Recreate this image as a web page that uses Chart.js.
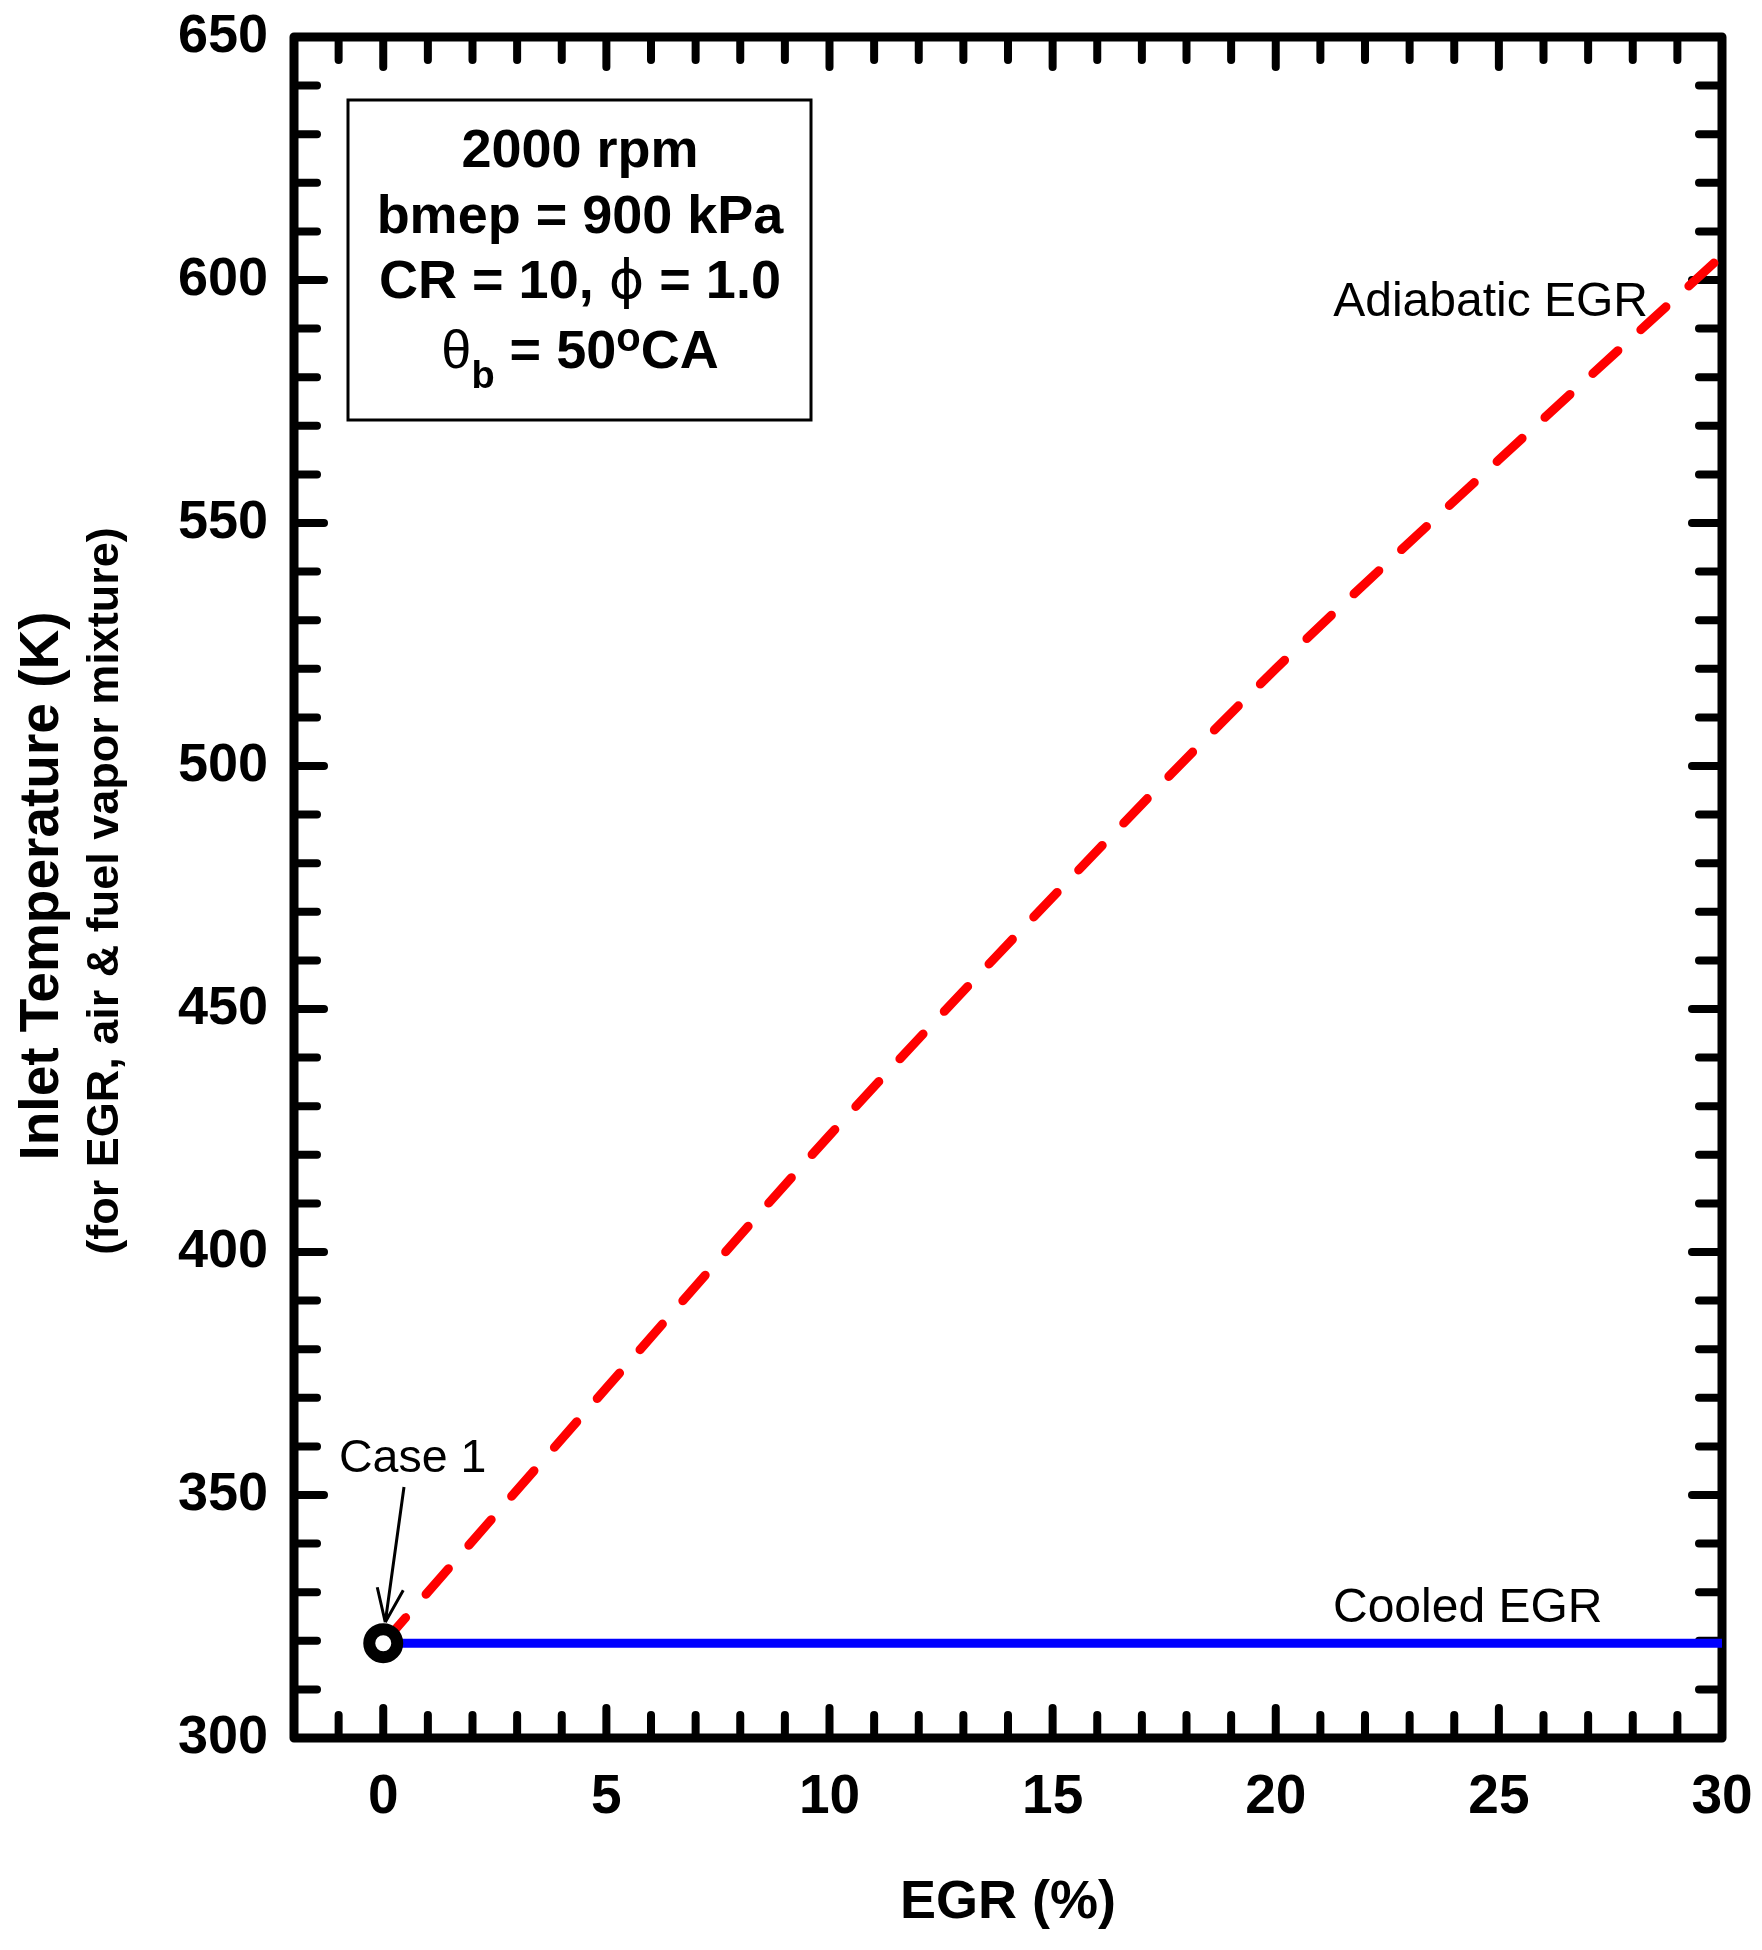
<!DOCTYPE html>
<html><head><meta charset="utf-8">
<script src="https://cdn.jsdelivr.net/npm/chart.js@4.4.0/dist/chart.umd.min.js"></script>
<style>html,body{margin:0;padding:0;background:#fff;}canvas{display:block;}</style>
</head><body>
<canvas id="c" width="1762" height="1950" style="width:1762px;height:1950px"></canvas>
<script>
// ---- data ----
const egr = [0, 5, 10, 15, 20, 25, 30];
const adiabaticT = [319.5, 372, 424, 473, 520, 563, 605];
const cooledT = [319.5, 319.5, 319.5, 319.5, 319.5, 319.5, 319.5];
const case1Point = [{x: 0, y: 319.5}];
const xTickValues = [0, 5, 10, 15, 20, 25, 30];
const yTickValues = [300, 350, 400, 450, 500, 550, 600, 650];
const infoLines = [
  [{t: '2000 rpm'}],
  [{t: 'bmep = 900 kPa'}],
  [{t: 'CR = 10, '}, {t: 'ϕ', reg: true, fam: '"DejaVu Sans"'}, {t: ' = 1.0'}],
  [{t: 'θ', reg: true}, {t: 'b', sub: true}, {t: ' = 50'}, {t: 'o', sup: true}, {t: 'CA'}]
];
const yTitle = 'Inlet Temperature (K)';
const ySubTitle = '(for EGR, air & fuel vapor mixture)';

const FONT = '"Liberation Sans", Arial, Helvetica, sans-serif';

const framePlugin = {
  id: 'frame',
  beforeDatasetsDraw(chart) {
    const {ctx, chartArea: a, scales: {x, y}} = chart;
    ctx.save();
    ctx.strokeStyle = '#000';
    ctx.lineCap = 'round';
    ctx.lineWidth = 8;
    const seg = (x1, y1, x2, y2) => { ctx.beginPath(); ctx.moveTo(x1, y1); ctx.lineTo(x2, y2); ctx.stroke(); };
    for (let v = -1; v < 30; v++) {
      const px = x.getPixelForValue(v);
      const L = (v % 5 === 0) ? 30 : 23;
      seg(px, a.bottom, px, a.bottom - L);
      seg(px, a.top, px, a.top + L);
    }
    for (let v = 310; v < 650; v += 10) {
      const py = y.getPixelForValue(v);
      const L = (v % 50 === 0) ? 30 : 23;
      seg(a.left, py, a.left + L, py);
      seg(a.right, py, a.right - L, py);
    }
    ctx.lineWidth = 9;
    ctx.lineJoin = 'round';
    ctx.strokeRect(a.left, a.top, a.right - a.left, a.bottom - a.top);
    // y axis titles
    ctx.fillStyle = '#000';
    ctx.textAlign = 'center';
    ctx.textBaseline = 'alphabetic';
    ctx.save();
    ctx.translate(58, 886);
    ctx.rotate(-Math.PI / 2);
    ctx.font = `bold 55px ${FONT}`;
    ctx.fillText(yTitle, 0, 0);
    ctx.restore();
    ctx.save();
    ctx.translate(118, 891);
    ctx.rotate(-Math.PI / 2);
    ctx.font = `bold 45px ${FONT}`;
    ctx.fillText(ySubTitle, 0, 0);
    ctx.restore();
    ctx.restore();
  },
  afterDatasetsDraw(chart) {
    const {ctx, scales: {x, y}} = chart;
    ctx.save();
    ctx.fillStyle = '#000';
    ctx.strokeStyle = '#000';
    ctx.textBaseline = 'alphabetic';
    // curve labels
    ctx.font = `48px ${FONT}`;
    ctx.textAlign = 'right';
    ctx.fillText('Adiabatic EGR', 1648, 316);
    ctx.textAlign = 'left';
    ctx.fillText('Cooled EGR', 1333, 1622);
    ctx.font = `46.5px ${FONT}`;
    ctx.fillText('Case 1', 339, 1472);
    // arrow to Case 1
    const cx0 = x.getPixelForValue(case1Point[0].x), cy0 = y.getPixelForValue(case1Point[0].y);
    const tip = [cx0 + 2, cy0 - 21];
    const st = [404, 1487];
    ctx.lineWidth = 3;
    ctx.lineCap = 'butt';
    ctx.beginPath();
    ctx.moveTo(st[0], st[1]); ctx.lineTo(tip[0], tip[1]);
    ctx.moveTo(tip[0] - 8, tip[1] - 35); ctx.lineTo(tip[0], tip[1]);
    ctx.moveTo(tip[0] + 18, tip[1] - 32); ctx.lineTo(tip[0], tip[1]);
    ctx.stroke();
    // info box
    ctx.lineWidth = 3;
    ctx.strokeRect(348, 100, 463, 320);
    const cx = 580;
    const baselines = [167, 232.6, 298.4, 367.5];
    infoLines.forEach((runs, i) => {
      const by = baselines[i];
      let total = 0;
      const items = runs.map(r => {
        const size = r.sub ? 38 : (r.sup ? 40 : 54);
        const font = `${r.reg ? 'normal' : 'bold'} ${size}px ${r.fam ? r.fam + ', ' + FONT : FONT}`;
        ctx.font = font;
        const w = ctx.measureText(r.t).width;
        total += w;
        return Object.assign({}, r, {font, w});
      });
      let xx = cx - total / 2;
      ctx.textAlign = 'left';
      items.forEach(it => {
        ctx.font = it.font;
        ctx.fillText(it.t, xx, by + (it.sub ? 20 : (it.sup ? -17 : 0)));
        xx += it.w;
      });
    });
    ctx.restore();
  }
};

new Chart(document.getElementById('c').getContext('2d'), {
  type: 'line',
  data: {
    datasets: [
      {
        label: 'Case 1',
        data: case1Point,
        showLine: false,
        pointRadius: 14,
        pointBorderWidth: 12,
        pointBackgroundColor: '#ffffff',
        pointBorderColor: '#000000',
        order: 0
      },
      {
        label: 'Adiabatic EGR',
        data: egr.map((v, i) => ({x: v, y: adiabaticT[i]})),
        borderColor: '#ff0000',
        borderWidth: 9,
        borderDash: [34, 31],
        borderCapStyle: 'round',
        cubicInterpolationMode: 'monotone',
        pointRadius: 0,
        fill: false,
        order: 2
      },
      {
        label: 'Cooled EGR',
        data: egr.map((v, i) => ({x: v, y: cooledT[i]})),
        borderColor: '#0000ff',
        borderWidth: 9,
        pointRadius: 0,
        fill: false,
        order: 1
      }
    ]
  },
  options: {
    responsive: false,
    devicePixelRatio: 1,
    animation: false,
    layout: {padding: {left: 0, top: 37, right: 40, bottom: 0}},
    plugins: {legend: {display: false}, tooltip: {enabled: false}},
    scales: {
      x: {
        type: 'linear', min: -2, max: 30,
        grid: {display: false, drawTicks: false},
        border: {display: false},
        afterBuildTicks: s => { s.ticks = xTickValues.map(v => ({value: v})); },
        afterFit: s => { s.height = 212; s.paddingLeft = 0; s.paddingRight = 0; },
        ticks: {color: '#000', font: {family: FONT, weight: 'bold', size: 55}, padding: 27, maxRotation: 0, autoSkip: false},
        title: {display: true, text: 'EGR (%)', color: '#000', font: {family: FONT, weight: 'bold', size: 54}, padding: {top: 0, bottom: 14}}
      },
      y: {
        type: 'linear', min: 300, max: 650,
        grid: {display: false, drawTicks: false},
        border: {display: false},
        afterBuildTicks: s => { s.ticks = yTickValues.map(v => ({value: v})); },
        afterFit: s => { s.width = 294; s.paddingTop = 0; s.paddingBottom = 0; },
        ticks: {color: '#000', font: {family: FONT, weight: 'bold', size: 54}, padding: 26, autoSkip: false}
      }
    }
  },
  plugins: [framePlugin]
});
</script>
</body></html>
